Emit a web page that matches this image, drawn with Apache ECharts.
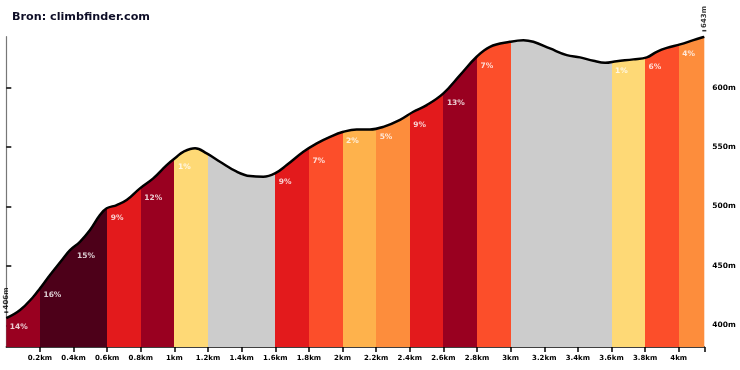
<!DOCTYPE html>
<html><head><meta charset="utf-8">
<script src="https://cdn.jsdelivr.net/npm/echarts@6/dist/echarts.min.js"></script>
<style>html,body{margin:0;padding:0;background:#fff}#c{width:740px;height:370px}</style>
</head><body><div id="c"></div>
<script>
// Elevation profile (distance km, elevation m)
const distKm = [0, 0.082, 0.161, 0.2, 0.26, 0.339, 0.379, 0.438, 0.498, 0.557, 0.597, 0.657, 0.716, 0.795, 0.874, 0.954, 1.014, 1.053, 1.123, 1.192, 1.271, 1.371, 1.45, 1.529, 1.598, 1.668, 1.767, 1.847, 1.926, 2.005, 2.084, 2.163, 2.243, 2.342, 2.421, 2.501, 2.6, 2.699, 2.798, 2.877, 2.996, 3.076, 3.135, 3.234, 3.334, 3.413, 3.492, 3.562, 3.631, 3.73, 3.81, 3.869, 3.929, 4.008, 4.087, 4.152];
const elevM = [406, 412.8, 424, 431, 442.3, 456.4, 463.3, 470.3, 480.2, 492.8, 498.5, 501.2, 505.4, 515.3, 523.7, 534.9, 541.9, 546.1, 549, 544.7, 537.7, 529.3, 525.6, 525.1, 527.9, 534.9, 546.1, 553.2, 558.7, 562.9, 564.9, 564.9, 567.1, 573, 579.8, 585.4, 595.3, 610.7, 626.1, 634.5, 638.7, 640.1, 638.7, 633.1, 627.5, 625.6, 622.7, 621, 622.4, 623.9, 625.6, 630.3, 633.6, 636.5, 640.1, 643];

// Gradient segments (every 0.2 km)
const segStartKm = [0, 0.2, 0.4, 0.6, 0.8, 1.0, 1.2, 1.4, 1.6, 1.8, 2.0, 2.2, 2.4, 2.6, 2.8, 3.0, 3.2, 3.4, 3.6, 3.8, 4.0];
const segStartElev = [406, 433, 466, 498, 515, 541, 544, 527, 528, 546, 563, 566, 576, 595, 626, 639, 635, 626, 622, 625, 636];
const segGrade = ['14%', '16%', '15%', '9%', '12%', '1%', '', '', '9%', '7%', '2%', '5%', '9%', '13%', '7%', '', '', '', '1%', '6%', '4%'];
const segColor = ['#990020', '#4d0019', '#4d0019', '#e31a1c', '#990020', '#fed976', '#cccccc', '#cccccc', '#e31a1c', '#fc4e2a', '#feb24c', '#fd8d3c', '#e31a1c', '#990020', '#fc4e2a', '#cccccc', '#cccccc', '#cccccc', '#fed976', '#fc4e2a', '#fd8d3c'];
const totalKm = 4.152;

// Axis ticks
const xTickKm = [0.2, 0.4, 0.6, 0.8, 1.0, 1.2, 1.4, 1.6, 1.8, 2.0, 2.2, 2.4, 2.6, 2.8, 3.0, 3.2, 3.4, 3.6, 3.8, 4.0];
const yTickM = [400, 450, 500, 550, 600];
const yMin = 381.7, yMax = 643;
const titleText = 'Bron: climbfinder.com';

const FONT = '"DejaVu Sans", Verdana, sans-serif';
const profile = distKm.map((d, i) => [d, elevM[i]]);
const pieces = segStartKm.map((s, i) => ({
  gte: s,
  lt: i + 1 < segStartKm.length ? segStartKm[i + 1] : totalKm + 1,
  color: segColor[i]
}));
const gradeData = [];
segStartKm.forEach((s, i) => { if (segGrade[i]) gradeData.push([s, segStartElev[i], segGrade[i]]); });

const SMOOTH = 0.4;
const chart = echarts.init(document.getElementById('c'), null, { renderer: 'canvas' });
chart.setOption({
  animation: false,
  backgroundColor: '#ffffff',
  title: {
    text: titleText, left: 7, top: 7,
    textStyle: { fontFamily: FONT, fontSize: 11.2, fontWeight: 'bold', color: '#0d0d26' }
  },
  grid: { left: 6.3, right: 35.7, top: 36.7, bottom: 23 },
  xAxis: {
    type: 'value', min: 0, max: totalKm,
    axisLine: { show: true, lineStyle: { color: '#000', width: 1.5 } },
    axisTick: { show: true, customValues: xTickKm.concat([totalKm]), length: 5, lineStyle: { color: '#000', width: 1.5 } },
    axisLabel: {
      customValues: xTickKm, margin: 8,
      fontFamily: FONT, fontSize: 7, fontWeight: 'bold', color: '#000',
      formatter: v => (Math.round(v * 10) / 10) + 'km'
    },
    splitLine: { show: false }
  },
  yAxis: {
    type: 'value', position: 'right', min: yMin, max: yMax,
    axisLine: { show: true, lineStyle: { color: '#777', width: 1.2 } },
    axisTick: { show: true, customValues: yTickM, length: 5, lineStyle: { color: '#000', width: 1.5 } },
    axisLabel: {
      customValues: yTickM, margin: 8,
      fontFamily: FONT, fontSize: 7.5, fontWeight: 'bold', color: '#000',
      formatter: v => v + 'm'
    },
    splitLine: { show: false }
  },
  visualMap: {
    show: false, type: 'piecewise', seriesIndex: 0, dimension: 0, pieces: pieces
  },
  series: [
    {
      type: 'line', data: profile, smooth: SMOOTH, symbol: 'none',
      lineStyle: { width: 0, opacity: 0 },
      areaStyle: { opacity: 1, origin: 'start' },
      z: 2
    },
    {
      type: 'line', data: profile, smooth: SMOOTH, symbol: 'none',
      lineStyle: { color: '#000', width: 2.5 },
      z: 4
    },
    {
      type: 'scatter', data: gradeData, symbolSize: 0,
      itemStyle: { color: 'rgba(0,0,0,0)' },
      label: {
        show: true, position: 'right', distance: 3.5, offset: [0, 9],
        formatter: p => p.value[2],
        fontFamily: FONT, fontSize: 7.5, fontWeight: 'bold', color: '#fff'
      },
      z: 5
    },
    {
      type: 'scatter', data: [[0, elevM[0]], [totalKm, elevM[elevM.length - 1]]],
      symbol: 'rect', symbolSize: [4, 1.5], symbolOffset: [0, -6],
      itemStyle: { color: '#000' }, clip: false,
      label: {
        show: true, position: 'top', distance: 2, rotate: 90,
        align: 'left', verticalAlign: 'middle',
        formatter: p => Math.round(p.value[1]) + 'm',
        fontFamily: FONT, fontSize: 7, fontWeight: 'bold', color: '#000'
      },
      z: 6
    }
  ]
});
</script></body></html>
